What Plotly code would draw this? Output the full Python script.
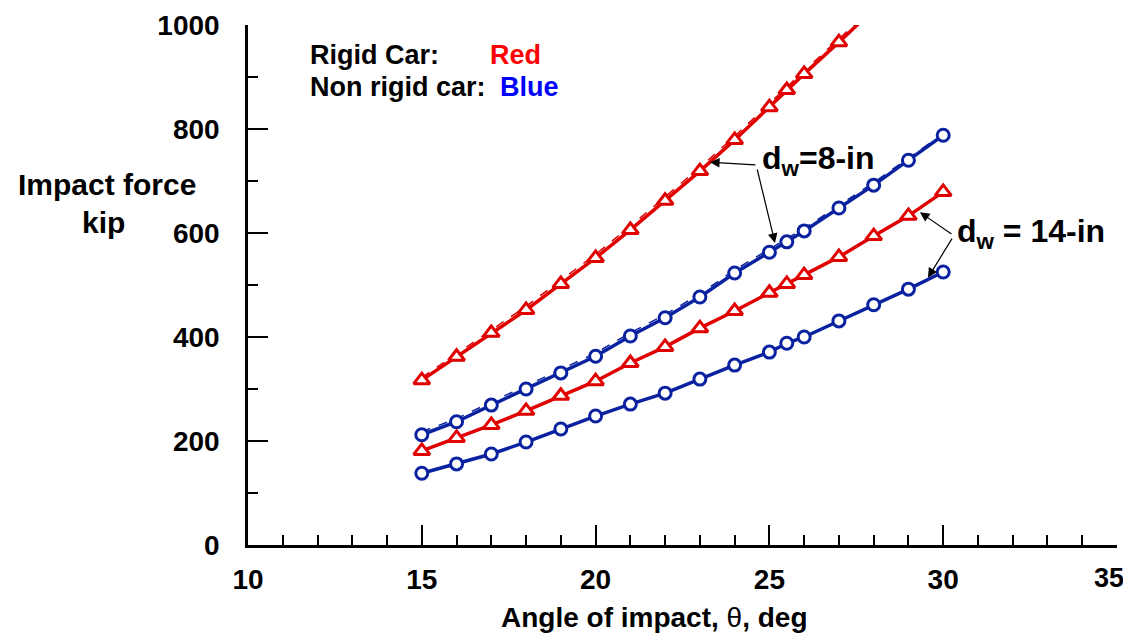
import plotly.graph_objects as go

# Angle of impact (deg)
angle = [15, 16, 17, 18, 19, 20, 21, 22, 23, 24, 25, 25.5, 26, 27, 28, 29, 30]

# Impact force (kip)
rigid_8in = [317, 362, 408, 452, 502, 552, 606, 662, 719, 779, 842, 875, 906, 967, 1030, None, None]
nonrigid_8in = [212, 237, 269, 300, 331, 363, 402, 437, 477, 523, 563, 583, 604, 648, 692, 740, 788]
rigid_14in = [181, 206, 231, 258, 287, 315, 350, 381, 417, 450, 485, 502, 519, 554, 594, 633, 679]
nonrigid_14in = [138, 156, 175, 198, 223, 248, 271, 292, 319, 346, 371, 388, 400, 431, 462, 492, 525]

# companion dashed curves
rigid_8in_dash = [322, 368, 414, 459, 509, 559, 613, 669, 726, 786, 849, 881, 912, 973, 1036, None, None]
nonrigid_8in_dash = [218, 243, 275, 306, 337, 369, 408, 443, 483, 529, 569, 589, 609, 653, 697, 744, 791]

# x tick labels (last one drawn separately so it stays inside the page)
x_tickvals = [10, 15, 20, 25, 30]
x_ticktext = ["10", "15", "20", "25", "30"]
x_last_label = "35"

RED = "#E00000"
BLUE = "#0A22A0"

fig = go.Figure()

def add_series(y, color, symbol, name, size):
    fig.add_trace(go.Scatter(
        x=angle, y=y, mode="lines+markers", name=name,
        line=dict(color=color, width=3.5),
        marker=dict(symbol=symbol, size=size, color="white",
                    line=dict(color=color, width=3)),
        connectgaps=False,
    ))

def add_dash(y, color):
    fig.add_trace(go.Scatter(
        x=angle, y=y, mode="lines", showlegend=False,
        line=dict(color=color, width=1.5, dash="dash"),
    ))

add_dash(rigid_8in_dash, RED)
add_dash(nonrigid_8in_dash, BLUE)
add_series(rigid_8in, RED, "triangle-up", "Rigid, dw=8-in", 14)
add_series(nonrigid_8in, BLUE, "circle", "Non rigid, dw=8-in", 12)
add_series(rigid_14in, RED, "triangle-up", "Rigid, dw=14-in", 14)
add_series(nonrigid_14in, BLUE, "circle", "Non rigid, dw=14-in", 12)

FONT = "Arial, Liberation Sans, sans-serif"
tf = dict(family=FONT, size=28, color="black", weight="bold")

# page has an 8px body margin, so the figure is offset by (8, 8)
fig.update_layout(
    width=1123, height=628,
    margin=dict(l=240, r=14, t=17, b=91),
    paper_bgcolor="white", plot_bgcolor="white",
    showlegend=False,
    xaxis=dict(
        range=[10, 35], automargin=False,
        tickmode="array", tickvals=x_tickvals + [35], ticktext=x_ticktext + [""],
        showgrid=False, zeroline=False,
        showline=True, linecolor="black", linewidth=2.5,
        ticks="inside", ticklen=20, tickwidth=2, tickcolor="black",
        tickfont=tf, ticklabelstandoff=8, ticklabeloverflow="allow",
        minor=dict(dtick=1, ticks="inside", ticklen=10, tickwidth=2,
                   tickcolor="black", showgrid=False),
    ),
    yaxis=dict(
        range=[0, 1000], dtick=200, tick0=0, automargin=False,
        showgrid=False, zeroline=False,
        showline=True, linecolor="black", linewidth=2.5,
        ticks="inside", ticklen=20, tickwidth=2, tickcolor="black",
        tickfont=tf, ticklabelstandoff=20, ticklabeloverflow="allow",
        minor=dict(dtick=100, ticks="inside", ticklen=10, tickwidth=2,
                   tickcolor="black", showgrid=False),
    ),
)

def txt(x, y, text, xanchor="left", color="black", size=27):
    fig.add_annotation(x=x, y=y, xref="x", yref="y", text=text,
                       showarrow=False, xanchor=xanchor, yanchor="middle",
                       font=dict(family=FONT, size=size, color=color, weight="bold"))

def ptxt(px, py, text, size=28, xanchor="center"):
    fig.add_annotation(x=(px - 248) / (1117 - 248), y=(545 - py) / 520,
                       xref="paper", yref="paper", text=text,
                       showarrow=False, xanchor=xanchor, yanchor="middle",
                       font=dict(family=FONT, size=size, color="black", weight="bold"))

# last x tick label
ptxt(1126, 578, x_last_label, size=27, xanchor="right")

# Axis titles
ptxt(654, 617, "Angle of impact, <span style='font-weight:normal'>θ</span>, deg")
ptxt(107, 184, "Impact force", size=30)
ptxt(103, 222, "kip", size=30)

# Colour key
txt(11.73, 943, "Rigid Car:")
txt(16.89, 943, "Red", color="#FF0000")
txt(11.73, 880, "Non rigid car:")
txt(17.2, 880, "Blue", color="#0000FF")

# dw labels
txt(24.73, 740, "d<sub>w</sub>=8-in", size=32)
txt(30.34, 600, "d<sub>w</sub> = 14-in", size=32)

def arrow(xt, yt, xs, ys):
    fig.add_annotation(x=xt, y=yt, ax=xs, ay=ys, xref="x", yref="y",
                       axref="x", ayref="y", text="", showarrow=True,
                       arrowhead=2, arrowsize=1.6, arrowwidth=1.2,
                       arrowcolor="black", standoff=0, startstandoff=0)

arrow(23.29, 736, 24.64, 731)
arrow(25.16, 581, 24.64, 725)
arrow(29.33, 640, 30.28, 596)
arrow(29.56, 514, 30.28, 592)

fig.write_html("out.html")
